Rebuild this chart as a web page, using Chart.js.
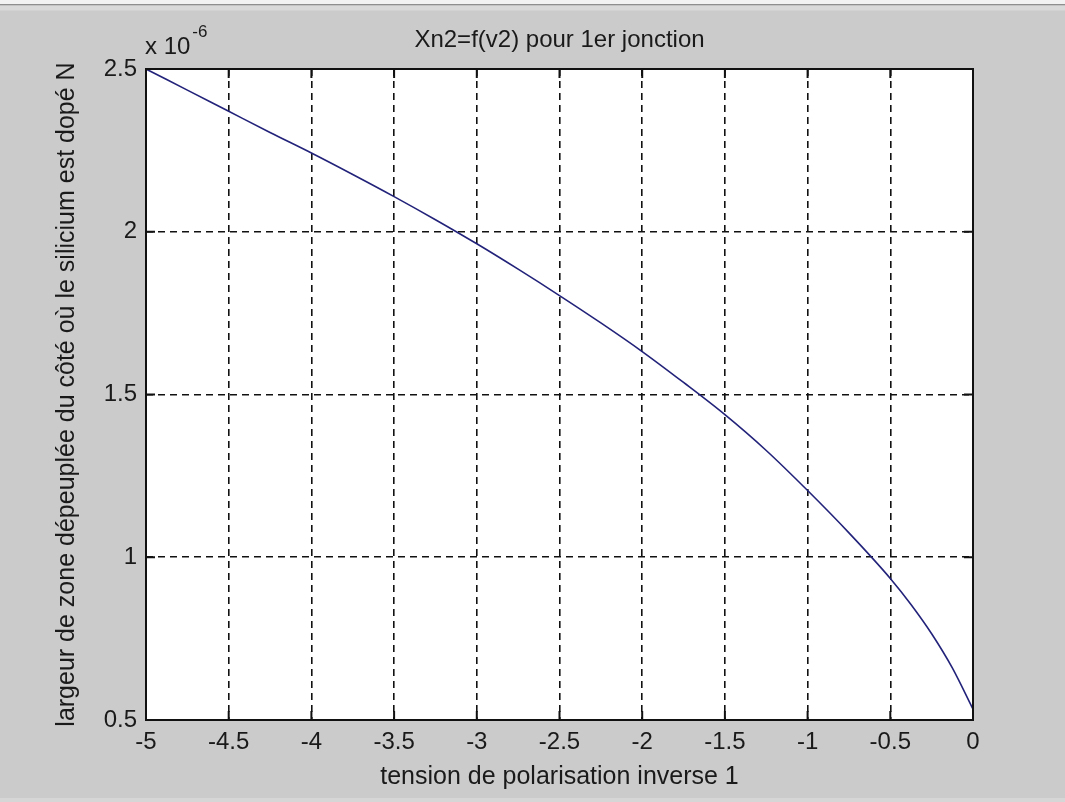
<!DOCTYPE html>
<html>
<head>
<meta charset="utf-8">
<script src="https://cdn.jsdelivr.net/npm/chart.js@4.4.1/dist/chart.umd.min.js"></script>
<style>
  html, body { margin: 0; padding: 0; background: #cbcbcb; }
  canvas { display: block; }
</style>
</head>
<body>
<canvas id="xn" width="1065" height="802"></canvas>
<script>
// Xn2 = f(v2), depletion width on the N side (values in units of 1e-6 m)
const tension = [-5, -4.75, -4.5, -4.25, -4, -3.75, -3.5, -3.25, -3, -2.75, -2.5, -2.25,
	-2, -1.75, -1.5, -1.25, -1, -0.75, -0.5, -0.375, -0.25, -0.125, 0];
const largeur = [2.50, 2.435, 2.37, 2.305, 2.242, 2.176, 2.108, 2.037, 1.963, 1.885, 1.804, 1.72,
	1.632, 1.537, 1.438, 1.328, 1.205, 1.075, 0.935, 0.855, 0.765, 0.66, 0.533];

const xTicks = [-5, -4.5, -4, -3.5, -3, -2.5, -2, -1.5, -1, -0.5, 0];
const yTicks = [0.5, 1, 1.5, 2, 2.5];

const titre = 'Xn2=f(v2) pour 1er jonction';
const labelX = 'tension de polarisation inverse 1';
const labelY = 'largeur de zone dépeuplée du côté où le silicium est dopé N';

const police = 'Arial, "Liberation Sans", Helvetica, sans-serif';


// -----------------------------
// figure decoration (grey window, title, exponent, frame + inner ticks)
// -----------------------------
const figure = {
	id: 'figure',
	beforeDraw(chart) {
		const ctx = chart.ctx;
		const a = chart.chartArea;
		ctx.save();
		ctx.fillStyle = '#cbcbcb';
		ctx.fillRect(0, 0, chart.width, chart.height);
		ctx.fillStyle = '#f2f2f2';
		ctx.fillRect(0, 0, chart.width, 4);
		ctx.fillStyle = '#8e8e8e';
		ctx.fillRect(0, 4, chart.width, 1.5);
		ctx.fillStyle = '#d9d9d9';
		ctx.fillRect(0, 5.5, chart.width, 5);
		ctx.fillStyle = '#d6d6d6';
		ctx.fillRect(0, chart.height - 4, chart.width, 4);
		ctx.fillStyle = '#ffffff';
		ctx.fillRect(a.left, a.top, a.right - a.left, a.bottom - a.top);
		ctx.restore();
	},
	afterDraw(chart) {
		const ctx = chart.ctx;
		const a = chart.chartArea;
		const sx = chart.scales.x;
		const sy = chart.scales.y;
		ctx.save();

		// solid inner tick marks
		ctx.strokeStyle = '#111';
		ctx.lineWidth = 2;
		ctx.beginPath();
		sx.ticks.forEach(t => {
			const px = sx.getPixelForValue(t.value);
			ctx.moveTo(px, a.bottom); ctx.lineTo(px, a.bottom - 9);
			ctx.moveTo(px, a.top); ctx.lineTo(px, a.top + 9);
		});
		sy.ticks.forEach(t => {
			const py = sy.getPixelForValue(t.value);
			ctx.moveTo(a.left, py); ctx.lineTo(a.left + 9, py);
			ctx.moveTo(a.right, py); ctx.lineTo(a.right - 9, py);
		});
		ctx.stroke();

		// frame
		ctx.strokeRect(a.left, a.top, a.right - a.left, a.bottom - a.top);

		// title
		ctx.fillStyle = '#1a1a1a';
		ctx.font = '24px ' + police;
		ctx.textAlign = 'center';
		ctx.textBaseline = 'middle';
		ctx.fillText(titre, (a.left + a.right) / 2, 40);

		// exponent  x 10^-6
		ctx.textAlign = 'left';
		ctx.fillText('x 10', a.left - 1, 47);
		const w = ctx.measureText('x 10').width;
		ctx.font = '17px ' + police;
		ctx.fillText('-6', a.left - 1 + w + 2, 32);
		ctx.restore();
	}
};


const data = {
	datasets: [{
		data: tension.map((v, i) => ({ x: v, y: largeur[i] })),
		borderColor: '#22227a',
		borderWidth: 1.6,
		pointRadius: 0,
		fill: false,
		cubicInterpolationMode: 'monotone'
	}]
};

const config = {
	type: 'line',
	data: data,
	options: {
		responsive: false,
		animation: false,
		devicePixelRatio: 1,
		layout: {
			padding: { left: 0, right: 92, top: 69, bottom: 0 }
		},
		plugins: {
			legend: { display: false },
			tooltip: { enabled: false },
			title: { display: false }
		},
		scales: {
			x: {
				type: 'linear',
				min: -5,
				max: 0,
				afterBuildTicks: s => { s.ticks = xTicks.map(v => ({ value: v })); },
				afterFit: s => { s.height = 82; },
				ticks: {
					color: '#1a1a1a',
					padding: 8,
					maxRotation: 0,
					autoSkip: false,
					font: { family: police, size: 24 },
					callback: v => String(v)
				},
				grid: {
					color: '#111',
					lineWidth: 1.6,
					drawTicks: false
				},
				border: { display: false, dash: [7, 5] },
				title: {
					display: true,
					text: labelX,
					color: '#1a1a1a',
					font: { family: police, size: 25 },
					padding: { top: 0, bottom: 10 }
				}
			},
			y: {
				type: 'linear',
				min: 0.5,
				max: 2.5,
				afterBuildTicks: s => { s.ticks = yTicks.map(v => ({ value: v })); },
				afterFit: s => { s.width = 146; },
				ticks: {
					color: '#1a1a1a',
					padding: 9,
					autoSkip: false,
					font: { family: police, size: 24 },
					callback: v => String(v)
				},
				grid: {
					color: '#111',
					lineWidth: 1.6,
					drawTicks: false
				},
				border: { display: false, dash: [7, 5] },
				title: {
					display: true,
					text: labelY,
					color: '#1a1a1a',
					font: { family: police, size: 25 },
					padding: { top: 52, bottom: 0 }
				}
			}
		}
	},
	plugins: [figure]
};

var myChart = new Chart(document.getElementById('xn').getContext('2d'), config);
</script>
</body>
</html>
